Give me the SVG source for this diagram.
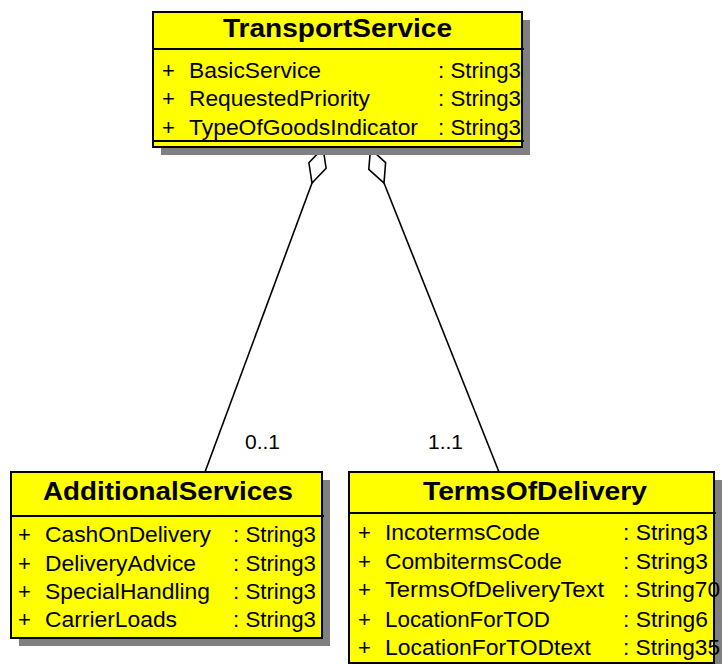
<svg xmlns="http://www.w3.org/2000/svg" width="724" height="664" viewBox="0 0 724 664">
  <style>
    .shadow { fill: #808080; stroke: none; }
    .box { fill: #ffff00; stroke: #000; stroke-width: 2; }
    .sep { stroke: #000; stroke-width: 2; fill: none; }
    .title { font-family: "Liberation Sans", Arial, sans-serif; font-weight: bold; font-size: 26px; fill: #000; text-anchor: middle; }
    .attr { font-family: "Liberation Sans", Arial, sans-serif; font-size: 22px; fill: #000; }
    .mult { font-family: "Liberation Sans", Arial, sans-serif; font-size: 21px; fill: #000; }
    .conn { stroke: #000; stroke-width: 1.6; fill: none; }
    .diamond { stroke: #000; stroke-width: 1.6; fill: #fff; }
  </style>
  <rect width="724" height="664" fill="#fff"/>

  <g id="connectors">
    <line class="conn" x1="312" y1="183" x2="205" y2="472"/>
    <polygon class="diamond" points="323,148 326.1,168.2 312,183 308.9,162.8"/>
    <line class="conn" x1="384" y1="183" x2="499" y2="472"/>
    <polygon class="diamond" points="370.5,148.9 385.6,162.7 384,183 368.8,169.3"/>
    <text class="mult" x="245" y="449">0..1</text>
    <text class="mult" x="428" y="449">1..1</text>
  </g>

  <g id="TransportService">
    <rect class="shadow" x="161" y="20" width="369" height="135"/>
    <rect class="box" x="153" y="12" width="369" height="135"/>
    <line class="sep" x1="153" y1="49" x2="524" y2="49"/>
    <line class="sep" x1="153" y1="141" x2="524" y2="141"/>
    <text class="title" x="337.5" y="37" textLength="229" lengthAdjust="spacingAndGlyphs">TransportService</text>
    <text class="attr" x="162" y="78">+</text>
    <text class="attr" x="189" y="78" textLength="132" lengthAdjust="spacingAndGlyphs">BasicService</text>
    <text class="attr" x="438" y="78" textLength="83" lengthAdjust="spacingAndGlyphs">: String3</text>
    <text class="attr" x="162" y="106">+</text>
    <text class="attr" x="189" y="106" textLength="181" lengthAdjust="spacingAndGlyphs">RequestedPriority</text>
    <text class="attr" x="438" y="106" textLength="83" lengthAdjust="spacingAndGlyphs">: String3</text>
    <text class="attr" x="162" y="135">+</text>
    <text class="attr" x="189" y="135" textLength="229" lengthAdjust="spacingAndGlyphs">TypeOfGoodsIndicator</text>
    <text class="attr" x="438" y="135" textLength="83" lengthAdjust="spacingAndGlyphs">: String3</text>
  </g>

  <g id="AdditionalServices">
    <rect class="shadow" x="19" y="480" width="311" height="166"/>
    <rect class="box" x="11" y="472" width="311" height="166"/>
    <line class="sep" x1="11" y1="516" x2="324" y2="516"/>
    <text class="title" x="168" y="500" textLength="250" lengthAdjust="spacingAndGlyphs">AdditionalServices</text>
    <text class="attr" x="18" y="542">+</text>
    <text class="attr" x="45" y="542" textLength="166" lengthAdjust="spacingAndGlyphs">CashOnDelivery</text>
    <text class="attr" x="233" y="542" textLength="83" lengthAdjust="spacingAndGlyphs">: String3</text>
    <text class="attr" x="18" y="571">+</text>
    <text class="attr" x="45" y="571" textLength="151" lengthAdjust="spacingAndGlyphs">DeliveryAdvice</text>
    <text class="attr" x="233" y="571" textLength="83" lengthAdjust="spacingAndGlyphs">: String3</text>
    <text class="attr" x="18" y="599">+</text>
    <text class="attr" x="45" y="599" textLength="165" lengthAdjust="spacingAndGlyphs">SpecialHandling</text>
    <text class="attr" x="233" y="599" textLength="83" lengthAdjust="spacingAndGlyphs">: String3</text>
    <text class="attr" x="18" y="627">+</text>
    <text class="attr" x="45" y="627" textLength="132" lengthAdjust="spacingAndGlyphs">CarrierLoads</text>
    <text class="attr" x="233" y="627" textLength="83" lengthAdjust="spacingAndGlyphs">: String3</text>
  </g>

  <g id="TermsOfDelivery">
    <rect class="shadow" x="357" y="480" width="365" height="200"/>
    <rect class="box" x="349" y="472" width="365" height="191"/>
    <line class="sep" x1="349" y1="513" x2="716" y2="513"/>
    <text class="title" x="535" y="500" textLength="224" lengthAdjust="spacingAndGlyphs">TermsOfDelivery</text>
    <text class="attr" x="358" y="540">+</text>
    <text class="attr" x="385" y="540" textLength="155" lengthAdjust="spacingAndGlyphs">IncotermsCode</text>
    <text class="attr" x="623" y="540" textLength="85" lengthAdjust="spacingAndGlyphs">: String3</text>
    <text class="attr" x="358" y="569">+</text>
    <text class="attr" x="385" y="569" textLength="177" lengthAdjust="spacingAndGlyphs">CombitermsCode</text>
    <text class="attr" x="623" y="569" textLength="85" lengthAdjust="spacingAndGlyphs">: String3</text>
    <text class="attr" x="358" y="597">+</text>
    <text class="attr" x="385" y="597" textLength="219" lengthAdjust="spacingAndGlyphs">TermsOfDeliveryText</text>
    <text class="attr" x="623" y="597" textLength="97" lengthAdjust="spacingAndGlyphs">: String70</text>
    <text class="attr" x="358" y="627">+</text>
    <text class="attr" x="385" y="627" textLength="165" lengthAdjust="spacingAndGlyphs">LocationForTOD</text>
    <text class="attr" x="623" y="627" textLength="85" lengthAdjust="spacingAndGlyphs">: String6</text>
    <text class="attr" x="358" y="655">+</text>
    <text class="attr" x="385" y="655" textLength="206" lengthAdjust="spacingAndGlyphs">LocationForTODtext</text>
    <text class="attr" x="623" y="655" textLength="97" lengthAdjust="spacingAndGlyphs">: String35</text>
  </g>
</svg>
